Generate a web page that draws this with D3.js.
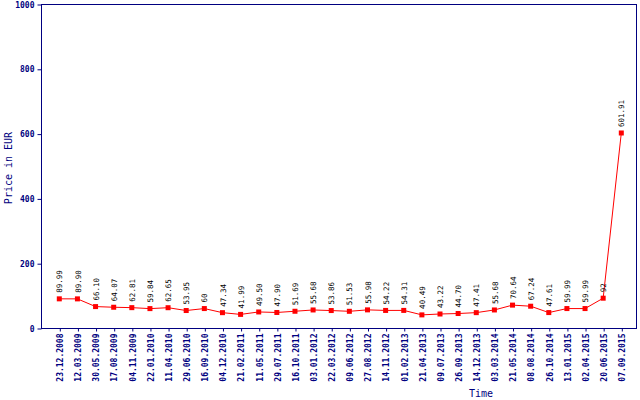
<!DOCTYPE html>
<html>
<head>
<meta charset="utf-8">
<script src="https://cdn.jsdelivr.net/npm/d3@7"></script>
<style>
  html, body { margin: 0; padding: 0; background: #fff; }
  svg { display: block; }
</style>
</head>
<body>
<svg id="chart" width="640" height="400"></svg>
<script>
const dates = ["23.12.2008","12.03.2009","30.05.2009","17.08.2009","04.11.2009","22.01.2010","11.04.2010","29.06.2010","16.09.2010","04.12.2010","21.02.2011","11.05.2011","29.07.2011","16.10.2011","03.01.2012","22.03.2012","09.06.2012","27.08.2012","14.11.2012","01.02.2013","21.04.2013","09.07.2013","26.09.2013","14.12.2013","03.03.2014","21.05.2014","08.08.2014","26.10.2014","13.01.2015","02.04.2015","20.06.2015","07.09.2015"];
const prices = [89.99,89.90,66.10,64.07,62.81,59.84,62.65,53.95,60,47.34,41.99,49.50,47.90,51.69,55.68,53.86,51.53,55.98,54.22,54.31,40.49,43.22,44.70,47.41,55.68,70.64,67.24,47.61,59.99,59.99,92,601.91];
const priceLabels = ["89.99","89.90","66.10","64.07","62.81","59.84","62.65","53.95","60","47.34","41.99","49.50","47.90","51.69","55.68","53.86","51.53","55.98","54.22","54.31","40.49","43.22","44.70","47.41","55.68","70.64","67.24","47.61","59.99","59.99","92","601.91"];
const yTicks = [0,200,400,600,800,1000];

const navy = "#000080";
const mono = "'DejaVu Sans Mono', monospace";
const svg = d3.select("#chart");
const L = 41, R = 636, T = 4, B = 328;

const x = d3.scalePoint().domain(dates).range([59.3, 621.3]);
const y = d3.scaleLinear().domain([0, 1000]).range([B, T]);

// frame
svg.append("rect").attr("x", L + 0.5).attr("y", T + 0.5)
  .attr("width", R - L).attr("height", B - T)
  .attr("fill", "none").attr("stroke", navy).attr("stroke-width", 1);

// y axis
const yAxis = svg.append("g").attr("transform", `translate(${L + 0.5},0.5)`)
  .call(d3.axisLeft(y).tickValues(yTicks).tickSize(4).tickPadding(3).tickFormat(d3.format("d")));
yAxis.select(".domain").remove();
yAxis.selectAll("line").attr("stroke", navy);
yAxis.selectAll("text").attr("fill", navy).attr("font-family", mono)
  .attr("font-size", "8px").attr("font-weight", "bold");

// x axis
const xAxis = svg.append("g").attr("transform", `translate(0.5,${B + 0.5})`)
  .call(d3.axisBottom(x).tickSize(3).tickPadding(4));
xAxis.select(".domain").remove();
xAxis.selectAll("line").attr("stroke", navy);
xAxis.selectAll("text")
  .attr("fill", navy).attr("font-family", mono).attr("font-size", "8px").attr("font-weight", "bold")
  .attr("transform", "rotate(-90)")
  .attr("text-anchor", "end")
  .attr("x", -5).attr("y", 0).attr("dy", "0.35em");

// axis titles
svg.append("text").attr("x", 481).attr("y", 397)
  .attr("text-anchor", "middle").attr("fill", navy)
  .attr("font-family", mono).attr("font-size", "10px").text("Time");
svg.append("text").attr("transform", `translate(12,168) rotate(-90)`)
  .attr("text-anchor", "middle").attr("fill", navy)
  .attr("font-family", mono).attr("font-size", "10px").text("Price in EUR");

// line
svg.append("path").datum(prices)
  .attr("fill", "none").attr("stroke", "#ff0000").attr("stroke-width", 1)
  .attr("d", d3.line().x((d, i) => x(dates[i])).y(d => y(d)));

// markers
svg.append("g").selectAll("rect").data(prices).join("rect")
  .attr("x", (d, i) => x(dates[i]) - 2.5).attr("y", d => y(d) - 2.5)
  .attr("width", 5).attr("height", 5).attr("fill", "#ff0000");

// value labels
svg.append("g").selectAll("text").data(prices).join("text")
  .attr("transform", (d, i) => `translate(${x(dates[i]) + 0.5},${y(d) - 6}) rotate(-90)`)
  .attr("dy", "0.35em").attr("text-anchor", "start")
  .attr("font-family", mono).attr("font-size", "7.5px").attr("fill", "#000")
  .text((d, i) => priceLabels[i]);
</script>
</body>
</html>
